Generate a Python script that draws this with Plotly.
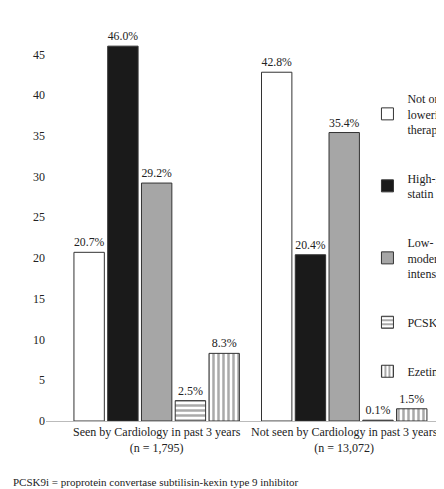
import plotly.graph_objects as go

groups = ["Seen by Cardiology in past 3 years<br>(n = 1,795)",
          "Not seen by Cardiology in past 3 years<br>(n = 13,072)"]
series = ["Not on a lipid-<br>lowering<br>therapy", "High-intensity<br>statin",
          "Low- or<br>moderate-<br>intensity statin", "PCSK9i", "Ezetimibe"]
values = [
    [20.7, 42.8],
    [46.0, 20.4],
    [29.2, 35.4],
    [2.5, 0.1],
    [8.3, 1.5],
]
colors = ["white", "#1a1a1a", "#a6a6a6", "white", "white"]
patterns = ["", "", "", "-", "|"]

fig = go.Figure()
for i, name in enumerate(series):
    fig.add_trace(go.Bar(
        x=groups, y=values[i], name=name,
        marker={"color": colors[i], "line": {"color": "#333", "width": 1},
                "pattern": {"shape": patterns[i], "fgcolor": "#555", "size": 5, "solidity": 0.5}},
        text=[f"{v:.1f}%" for v in values[i]], textposition="outside",
        textfont={"size": 12, "color": "#222"}, cliponaxis=False,
        legendgroup=str(i),
    ))

fig.update_layout(
    width=444, height=489,
    font={"family": "Liberation Serif", "size": 12, "color": "#222"},
    paper_bgcolor="white", plot_bgcolor="white",
    margin={"l": 38, "r": 14, "t": 30, "b": 76, "autoexpand": False},
    barmode="group", bargap=0.1, bargroupgap=0.1,
    showlegend=True,
    legend={"x": 0.82, "y": 0.88, "xanchor": "left", "yanchor": "top",
            "tracegroupgap": 30, "font": {"size": 12}, "bgcolor": "rgba(0,0,0,0)"},
    xaxis={"range": [-0.59, 1.5], "showline": True, "linecolor": "#bbb",
           "ticks": "", "tickfont": {"size": 12}},
    yaxis={"range": [0, 47], "tickvals": list(range(0, 50, 5)), "ticksuffix": "%",
           "showgrid": False, "showline": False, "zeroline": False,
           "tickfont": {"size": 12}},
    annotations=[{"text": "PCSK9i = proprotein convertase subtilisin-kexin type 9 inhibitor",
                  "xref": "paper", "yref": "paper", "x": -0.09, "y": -0.16,
                  "xanchor": "left", "yanchor": "middle", "showarrow": False,
                  "font": {"size": 11}}],
)

fig.write_html("out.html")
